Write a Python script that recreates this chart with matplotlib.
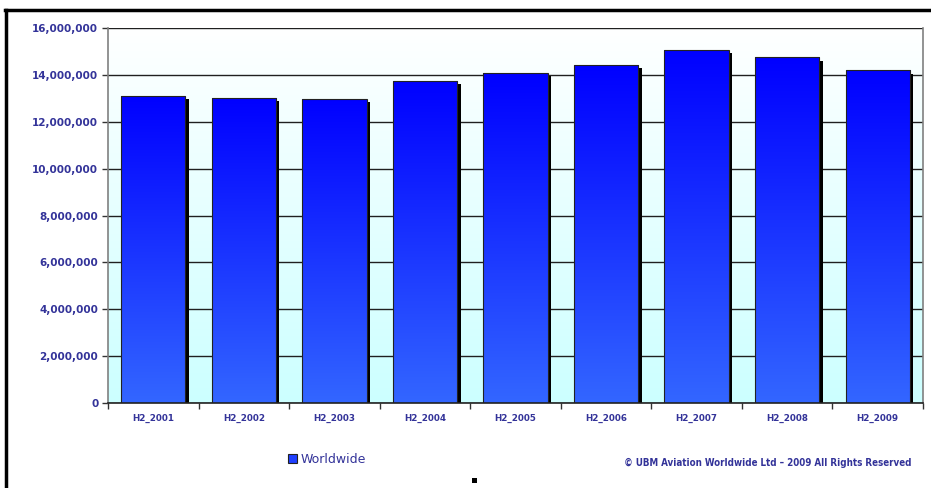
import numpy as np
import matplotlib
matplotlib.use("Agg")
import matplotlib.pyplot as plt
from matplotlib import patheffects as pe
from matplotlib.colors import LinearSegmentedColormap
from matplotlib.ticker import FuncFormatter, MultipleLocator
from matplotlib.lines import Line2D
from matplotlib.patches import Rectangle

categories = ["H2_2001", "H2_2002", "H2_2003", "H2_2004", "H2_2005",
              "H2_2006", "H2_2007", "H2_2008", "H2_2009"]
worldwide = [13100000, 13030000, 12980000, 13740000, 14080000,
             14430000, 15080000, 14750000, 14190000]
series_name = "Worldwide"
copyright_text = "\u00a9 UBM Aviation Worldwide Ltd \u2013 2009 All Rights Reserved"

label_color = "#333399"

fig = plt.figure(figsize=(9.31, 4.88), dpi=100)
fig.patch.set_facecolor("white")
ax = fig.add_axes([0.116, 0.1742, 0.8754, 0.7684])

ymax = 16000000
x = np.arange(len(categories))
ax.set_xlim(-0.5, len(categories) - 0.5)
ax.set_ylim(0, ymax)

# background gradient (white top -> light cyan bottom)
bg_cmap = LinearSegmentedColormap.from_list("bg", ["#ccffff", "#ffffff"])
grad = np.linspace(0, 1, 256).reshape(-1, 1)
ax.imshow(grad, aspect="auto", cmap=bg_cmap, origin="lower",
          extent=[-0.5, len(categories) - 0.5, 0, ymax], zorder=0)

# grid
ax.yaxis.set_major_locator(MultipleLocator(2000000))
ax.grid(axis="y", color="#202020", linewidth=1.0, zorder=1)
ax.set_axisbelow(True)

# bars
bars = ax.bar(x, worldwide, width=0.71, facecolor="none", edgecolor="#222222",
              linewidth=0.8, zorder=3)
bar_cmap = LinearSegmentedColormap.from_list("bar", ["#3366ff", "#0000ff"])
for b in bars:
    bx, by = b.get_x(), b.get_y()
    w, h = b.get_width(), b.get_height()
    shadow = Rectangle((bx, by), w, h, facecolor="black", edgecolor="none",
                       transform=ax.transData, zorder=2)
    shadow.set_transform(ax.transData + matplotlib.transforms.ScaledTranslation(2.5 / 72, -2.5 / 72, fig.dpi_scale_trans))
    ax.add_patch(shadow)
    im = ax.imshow(grad, aspect="auto", cmap=bar_cmap, origin="lower",
                   extent=[bx, bx + w, by, by + h], zorder=2.5)
    im.set_clip_path(b)

ax.set_xlim(-0.5, len(categories) - 0.5)
ax.set_ylim(0, ymax)

# ticks
ax.set_xticks(x)
ax.set_xticklabels(categories)
ax.set_xticks(np.arange(len(categories) + 1) - 0.5, minor=True)
ax.tick_params(axis="x", which="major", length=0, pad=8, labelsize=6.3,
               labelcolor=label_color)
ax.tick_params(axis="x", which="minor", length=4, width=1, color="#333333", direction="out")
ax.tick_params(axis="y", length=4, width=1, color="#333333", labelsize=7.5,
               labelcolor=label_color, pad=3)
for lab in ax.get_xticklabels() + ax.get_yticklabels():
    lab.set_fontweight("bold")
ax.yaxis.set_major_formatter(FuncFormatter(lambda v, p: f"{int(v):,}"))

for side in ["left", "right"]:
    ax.spines[side].set_color("#808080")
    ax.spines[side].set_linewidth(1.2)
ax.spines["top"].set_visible(False)
ax.spines["bottom"].set_color("#222222")
ax.spines["bottom"].set_linewidth(1.2)

# legend
leg = fig.legend(handles=[Rectangle((0, 0), 1, 1, facecolor="#1f3fff", edgecolor="#222222", linewidth=0.8)],
                 labels=[series_name], loc="center left", bbox_to_anchor=(0.297, 0.058),
                 frameon=False, handlelength=0.7, handleheight=0.7, handletextpad=0.3,
                 prop={"size": 9})
for t in leg.get_texts():
    t.set_color(label_color)

fig.text(0.979, 0.052, copyright_text, ha="right", va="center", fontsize=7,
         fontweight="bold", color=label_color, fontstretch="condensed")

# outer frame lines and small marker
fig.add_artist(Line2D([5.5 / 931, 5.5 / 931], [0, 1 - 10 / 488], color="black", linewidth=2.5, transform=fig.transFigure))
fig.add_artist(Line2D([5 / 931, 1], [1 - 10 / 488, 1 - 10 / 488], color="black", linewidth=2.5, transform=fig.transFigure))
fig.add_artist(Rectangle((472 / 931, 1 - 483 / 488), 5 / 931, 5 / 488, facecolor="black",
                         edgecolor="none", transform=fig.transFigure))

fig.savefig("out.png", dpi=100)
